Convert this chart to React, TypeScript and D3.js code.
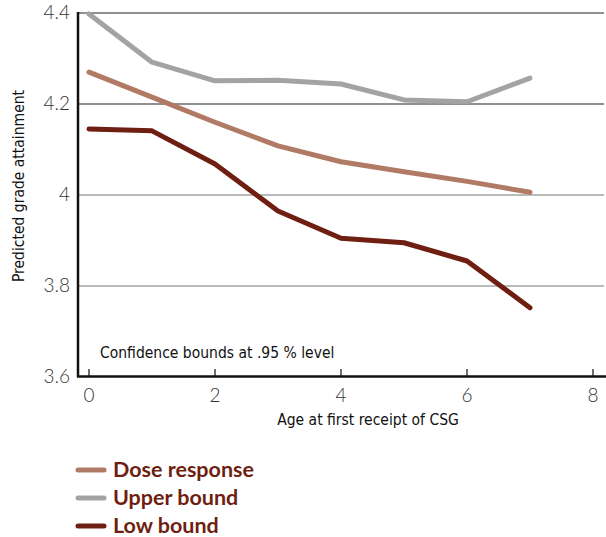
import React from "react";
import * as d3 from "d3";

const ages = [0, 1, 2, 3, 4, 5, 6, 7];
const doseResponse = [4.27, 4.215, 4.16, 4.108, 4.073, 4.051, 4.03, 4.006];
const upperBound = [4.398, 4.292, 4.251, 4.252, 4.244, 4.209, 4.205, 4.257];
const lowBound = [4.145, 4.141, 4.068, 3.965, 3.905, 3.895, 3.855, 3.752];
const xTicks = [0, 2, 4, 6, 8];
const yTicks = [3.6, 3.8, 4, 4.2, 4.4];
const seriesNames = ["Dose response", "Upper bound", "Low bound"];
const seriesColors = ["#b07a64", "#a3a3a3", "#6e1f12"];

export default function App() {
  const W = 606, H = 537;
  const x = d3.scaleLinear().domain([0, 8]).range([89, 593]);
  const y = d3.scaleLinear().domain([3.6, 4.4]).range([377, 13]);
  const line = d3.line<number>().x((_, i) => x(ages[i])).y((d) => y(d));
  const series = [doseResponse, upperBound, lowBound];
  const narrow = "'Liberation Sans Narrow', 'DejaVu Sans Condensed', sans-serif";
  return (
    <svg width={W} height={H} style={{ position: "absolute", left: 0, top: 0 }}>
      <rect width={W} height={H} fill="#fff" />
      {yTicks.filter((t) => t > 3.6).map((t) => (
        <line key={t} x1={79} x2={604} y1={y(t)} y2={y(t)}
          stroke={t >= 4.2 ? "#222" : "#777"} strokeWidth={1.2} />
      ))}
      {yTicks.map((t) => (
        <text key={t} x={70} y={y(t) + 6} textAnchor="end" fontFamily="Lato, sans-serif"
          fontWeight={300} fontSize={19} fill="#333">{d3.format("")(t)}</text>
      ))}
      {xTicks.map((t) => (
        <g key={t}>
          <line x1={x(t)} x2={x(t)} y1={376} y2={369} stroke="#222" strokeWidth={1.3} />
          <text x={x(t)} y={402} textAnchor="middle" fontFamily="Lato, sans-serif"
            fontWeight={300} fontSize={19} fill="#333">{t}</text>
        </g>
      ))}
      <line x1={78} x2={78} y1={12} y2={377} stroke="#111" strokeWidth={2.5} />
      <line x1={77} x2={606} y1={376.5} y2={376.5} stroke="#111" strokeWidth={2.5} />
      {series.map((s, i) => (
        <path key={i} d={line(s) || ""} fill="none" stroke={seriesColors[i]}
          strokeWidth={5} strokeLinejoin="round" strokeLinecap="round" />
      ))}
      <text x={100} y={358} fontFamily={narrow} fontSize={15.5} fill="#111">Confidence bounds at .95 % level</text>
      <text x={368} y={425} textAnchor="middle" fontFamily={narrow} fontSize={15.5} fill="#111">Age at first receipt of CSG</text>
      <text transform="translate(24,186) rotate(-90)" textAnchor="middle" fontFamily={narrow}
        fontSize={15.5} fill="#111">Predicted grade attainment</text>
      {seriesNames.map((n, i) => (
        <g key={n}>
          <line x1={78} x2={104} y1={470 + i * 28} y2={470 + i * 28} stroke={seriesColors[i]}
            strokeWidth={5} strokeLinecap="round" />
          <text x={113} y={477 + i * 28} fontFamily="Lato, sans-serif" fontWeight={700}
            fontSize={21.5} fill="#6e1f12">{n}</text>
        </g>
      ))}
    </svg>
  );
}
